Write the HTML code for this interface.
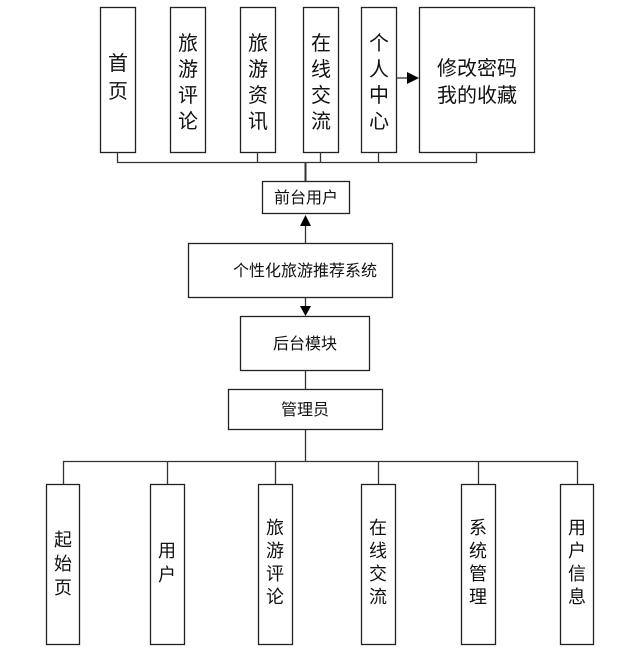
<!DOCTYPE html>
<html><head><meta charset="utf-8"><style>
html,body{margin:0;padding:0;background:#fff;}
svg{display:block;}
text{font-family:"Liberation Sans","Noto Sans CJK SC",sans-serif;fill:#111;}
</style></head><body>
<svg width="637" height="662" viewBox="0 0 637 662" xmlns="http://www.w3.org/2000/svg">
<g fill="#fff" stroke="#222" stroke-width="1.3">
<rect x="100.5" y="7.5" width="35" height="145"/>
<rect x="170.5" y="7.5" width="35" height="145"/>
<rect x="240.5" y="7.5" width="35" height="145"/>
<rect x="303.5" y="7.5" width="35" height="145"/>
<rect x="361.5" y="7.5" width="35" height="145"/>
<rect x="419.5" y="7.5" width="115" height="145"/>
<rect x="262.5" y="181.5" width="87" height="32"/>
<rect x="188.5" y="243.5" width="204" height="54"/>
<rect x="240.5" y="316.5" width="129" height="54"/>
<rect x="228.5" y="389.5" width="154" height="40"/>
<rect x="46.5" y="484.5" width="33" height="160"/>
<rect x="150.5" y="484.5" width="34" height="160"/>
<rect x="258.5" y="484.5" width="34" height="160"/>
<rect x="361.5" y="484.5" width="34" height="160"/>
<rect x="461.5" y="484.5" width="34" height="160"/>
<rect x="560.5" y="484.5" width="33" height="160"/>
</g>
<g stroke="#333" stroke-width="1.3" fill="none">
<path d="M117.5 152V162.5H476.5V152M257.5 152V162M320.5 152V162M378.5 152V162"/>
<path d="M305.5 162V181" stroke-width="2"/>
<path d="M305.5 243V226"/>
<path d="M305.5 298V306"/>
<path d="M305.5 371V389"/>
<path d="M305.5 430V461"/>
<path d="M63.5 484V461.5H577.5V484M167.5 461V484M275.5 461V484M378.5 461V484M478.5 461V484"/>
<path d="M397 78H408"/>
</g>
<g fill="#000">
<polygon points="300,226 311,226 305.5,215"/>
<polygon points="300,306 311,306 305.5,316"/>
<polygon points="407,72 407,84 419,78"/>
</g>
<g font-size="20" text-anchor="middle">
<text x="118" y="70">首</text><text x="118" y="98">页</text>
<text x="188" y="50">旅</text><text x="188" y="76">游</text><text x="188" y="102">评</text><text x="188" y="128">论</text>
<text x="258" y="50">旅</text><text x="258" y="76">游</text><text x="258" y="102">资</text><text x="258" y="128">讯</text>
<text x="321" y="50">在</text><text x="321" y="76">线</text><text x="321" y="102">交</text><text x="321" y="128">流</text>
<text x="379" y="50">个</text><text x="379" y="76">人</text><text x="379" y="102">中</text><text x="379" y="128">心</text>
<text x="477" y="75">修改密码</text><text x="477" y="102">我的收藏</text>
</g>
<g font-size="16" text-anchor="middle">
<text x="306" y="203">前台用户</text>
<text x="305" y="276">个性化旅游推荐系统</text>
<text x="305" y="349">后台模块</text>
<text x="305" y="415">管理员</text>
</g>
<g font-size="18" text-anchor="middle">
<text x="63" y="546">起</text><text x="63" y="570">始</text><text x="63" y="594">页</text>
<text x="167" y="557">用</text><text x="167" y="581">户</text>
<text x="275" y="534">旅</text><text x="275" y="557">游</text><text x="275" y="580">评</text><text x="275" y="603">论</text>
<text x="378" y="534">在</text><text x="378" y="557">线</text><text x="378" y="580">交</text><text x="378" y="603">流</text>
<text x="478" y="534">系</text><text x="478" y="557">统</text><text x="478" y="580">管</text><text x="478" y="603">理</text>
<text x="577" y="534">用</text><text x="577" y="557">户</text><text x="577" y="580">信</text><text x="577" y="603">息</text>
</g>
</svg>
</body></html>
